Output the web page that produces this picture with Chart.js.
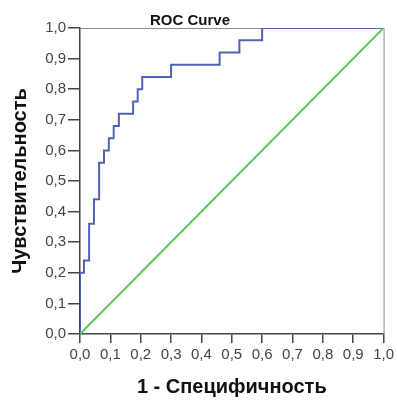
<!DOCTYPE html>
<html>
<head>
<meta charset="utf-8">
<script src="https://cdn.jsdelivr.net/npm/chart.js@4/dist/chart.umd.min.js"></script>
<style>
  html, body { margin: 0; padding: 0; background: #fff; }
  #wrap { width: 397px; height: 403px; }
</style>
</head>
<body>
<div id="wrap"><canvas id="myChart" width="397" height="403"></canvas></div>
<script>
// ROC curve corners (1 - specificity, sensitivity)
const fpr = [0, 0, 0.013, 0.013, 0.03, 0.03, 0.046, 0.046, 0.063, 0.063, 0.079, 0.079,
  0.095, 0.095, 0.111, 0.111, 0.128, 0.128, 0.175, 0.175, 0.19, 0.19, 0.205, 0.205,
  0.30, 0.30, 0.46, 0.46, 0.525, 0.525, 0.60, 0.60, 1.0];
const tpr = [0, 0.20, 0.20, 0.24, 0.24, 0.36, 0.36, 0.44, 0.44, 0.56, 0.56, 0.60,
  0.60, 0.64, 0.64, 0.68, 0.68, 0.72, 0.72, 0.76, 0.76, 0.80, 0.80, 0.84,
  0.84, 0.88, 0.88, 0.92, 0.92, 0.96, 0.96, 1.0, 1.0];
// reference line
const refX = [0, 1];
const refY = [0, 1];
const tickValues = [0, 0.1, 0.2, 0.3, 0.4, 0.5, 0.6, 0.7, 0.8, 0.9, 1.0];

const chartTitle = 'ROC Curve';
const xTitle = '1 - Специфичность';
const yTitle = 'Чувствительность';

function toPoints(xs, ys) {
  return xs.map((x, i) => ({ x: x, y: ys[i] }));
}

function fmt(v) {
  return v.toFixed(1).replace('.', ',');
}

const frame = {
  id: 'frame',
  beforeDatasetsDraw(chart) {
    const a = chart.chartArea;
    const ctx = chart.ctx;
    ctx.save();
    ctx.strokeStyle = '#8c8c8c';
    ctx.lineWidth = 1;
    ctx.beginPath();
    ctx.moveTo(a.left, a.top + 0.5);
    ctx.lineTo(a.right + 0.5, a.top + 0.5);
    ctx.lineTo(a.right + 0.5, a.bottom);
    ctx.stroke();
    ctx.restore();
  },
  afterDraw(chart) {
    const ctx = chart.ctx;
    ctx.save();
    ctx.font = 'bold 15px "Liberation Sans", Arial, sans-serif';
    ctx.fillStyle = '#111';
    ctx.textAlign = 'center';
    ctx.textBaseline = 'alphabetic';
    ctx.fillText(chartTitle, 190, 25);
    ctx.restore();
  }
};

function displayChart() {
  const ctx = document.getElementById('myChart');
  return new Chart(ctx, {
    type: 'scatter',
    data: {
      datasets: [{
        label: 'Reference',
        data: toPoints(refX, refY),
        showLine: true,
        borderColor: '#5cc95c',
        borderWidth: 2,
        pointRadius: 0
      }, {
        label: 'ROC',
        data: toPoints(fpr, tpr),
        showLine: true,
        borderColor: '#4d63b8',
        borderWidth: 2,
        pointRadius: 0
      }]
    },
    options: {
      responsive: false,
      animation: false,
      layout: { padding: { top: 28, right: 12, left: 0, bottom: 0 } },
      plugins: {
        legend: { display: false },
        tooltip: { enabled: false }
      },
      scales: {
        x: {
          type: 'linear',
          min: 0,
          max: 1,
          afterBuildTicks: (scale) => { scale.ticks = tickValues.map(v => ({ value: v })); },
          afterFit: (scale) => { scale.height = 69; },
          grid: { drawOnChartArea: false, drawTicks: true, tickLength: 9, color: '#444', lineWidth: 1.5 },
          border: { display: true, color: '#444', width: 1.5 },
          ticks: {
            autoSkip: false,
            maxRotation: 0,
            padding: 3,
            color: '#444',
            font: { family: '"Liberation Sans", Arial, sans-serif', size: 15 },
            callback: (v) => fmt(v)
          },
          title: {
            display: true,
            text: xTitle,
            color: '#111',
            padding: { top: 17 },
            font: { family: '"Liberation Sans", Arial, sans-serif', size: 20, weight: 'bold' }
          }
        },
        y: {
          type: 'linear',
          min: 0,
          max: 1,
          afterBuildTicks: (scale) => { scale.ticks = tickValues.map(v => ({ value: v })); },
          afterFit: (scale) => { scale.width = 80; },
          grid: { drawOnChartArea: false, drawTicks: true, tickLength: 12, color: '#444', lineWidth: 1.5 },
          border: { display: true, color: '#444', width: 1.5 },
          ticks: {
            autoSkip: false,
            padding: 2,
            color: '#444',
            font: { family: '"Liberation Sans", Arial, sans-serif', size: 15 },
            callback: (v) => fmt(v)
          },
          title: {
            display: true,
            text: yTitle,
            color: '#111',
            padding: { top: 8, bottom: 0 },
            font: { family: '"Liberation Sans", Arial, sans-serif', size: 20, weight: 'bold' }
          }
        }
      }
    },
    plugins: [frame]
  });
}

displayChart();
</script>
</body>
</html>
